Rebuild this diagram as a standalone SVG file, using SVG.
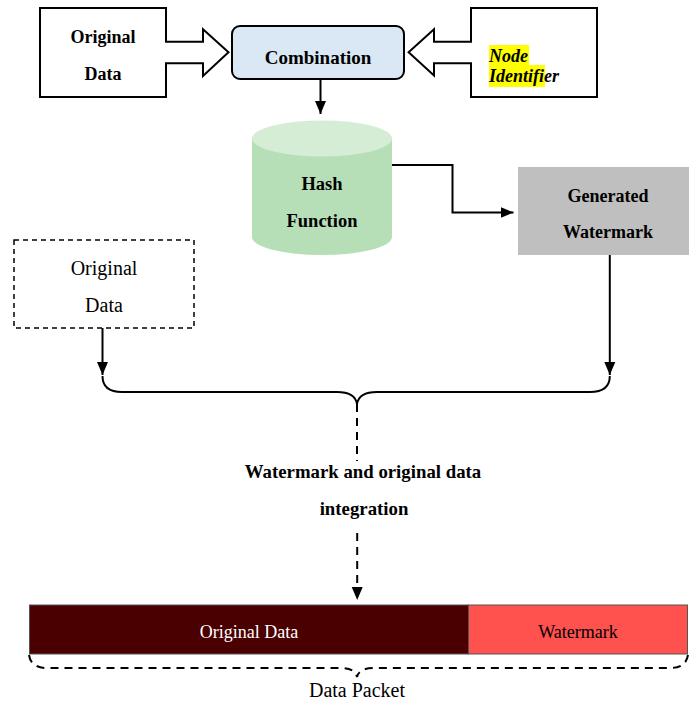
<svg xmlns="http://www.w3.org/2000/svg" width="689" height="704" viewBox="0 0 689 704">
<style>
.t{font-family:"Liberation Serif","Times New Roman",serif;fill:#000;text-anchor:middle}
.s{text-anchor:start}
.b{font-weight:bold}
.w{fill:#fff}
.box{fill:#fff;stroke:#000;stroke-width:2}
.ln{fill:none;stroke:#000;stroke-width:2}
.dash{fill:none;stroke:#000;stroke-width:2;stroke-dasharray:8 6}
</style>
<defs>
<marker id="ah" markerUnits="userSpaceOnUse" markerWidth="14" markerHeight="14" viewBox="0 0 14 14" refX="13" refY="7" orient="auto">
<path d="M0,1.5 L13,7 L0,12.5 Z" fill="#000"/>
</marker>
</defs>
<rect width="689" height="704" fill="#fff"/>

<g id="original-data-top">
<rect class="box" x="40" y="8" width="126" height="89"/>
<text class="t b" x="103" y="43" font-size="18">Original</text>
<text class="t b" x="103" y="80" font-size="18">Data</text>
</g>

<g id="node-identifier">
<rect class="box" x="471" y="8" width="126" height="89"/>
<rect x="489" y="45" width="40" height="20" fill="#ffff00"/>
<rect x="489" y="65" width="56" height="22" fill="#ffff00"/>
<text class="t b s" x="489" y="62" font-size="18" font-style="italic">Node</text>
<text class="t b s" x="489" y="82" font-size="18" font-style="italic">Identifier</text>
</g>

<g id="combination">
<rect x="232" y="26" width="172" height="53" rx="8" fill="#dae7f5" stroke="#000" stroke-width="2"/>
<text class="t b" x="318" y="64" font-size="19">Combination</text>
</g>

<g id="hash-function">
<path d="M252,138.5 L252,237 A70,18 0 0 0 392,237 L392,138.5 Z" fill="#b7dfb7"/>
<ellipse cx="322" cy="138.5" rx="70" ry="18" fill="#d5edd4"/>
<text class="t b" x="322" y="190" font-size="18.5">Hash</text>
<text class="t b" x="322" y="227" font-size="18.5">Function</text>
</g>

<g id="generated-watermark">
<rect x="518" y="167" width="171" height="88" fill="#bfbfbf"/>
<text class="t b" x="608" y="202" font-size="18">Generated</text>
<text class="t b" x="608" y="238" font-size="18">Watermark</text>
</g>

<g id="original-data-dashed">
<rect x="14" y="240" width="180" height="88" fill="#fff" stroke="#000" stroke-width="1.5" stroke-dasharray="5 4"/>
<text class="t" x="104" y="275" font-size="20">Original</text>
<text class="t" x="104" y="312" font-size="20">Data</text>
</g>

<g id="integration-label">
<text class="t b" x="363" y="478" font-size="18.8">Watermark and original data</text>
<text class="t b" x="364" y="515" font-size="18.8">integration</text>
</g>

<g id="data-packet">
<rect x="29.5" y="605" width="439" height="49" fill="#4a0000" stroke="#555" stroke-width="1"/>
<rect x="468.5" y="605" width="219" height="49" fill="#ff514d" stroke="#555" stroke-width="1"/>
<text class="t w" x="249" y="638" font-size="18">Original Data</text>
<text class="t" x="578" y="638" font-size="18">Watermark</text>
<text class="t" x="357" y="697" font-size="20">Data Packet</text>
</g>

<g id="connectors">
<path d="M165,41.7 L203,41.7 L203,29.3 L228.5,52.3 L203,76 L203,63.3 L165,63.3" fill="#fff" stroke="#000" stroke-width="2"/>
<path d="M472,41.7 L434,41.7 L434,29.3 L408.6,52.3 L434,75.5 L434,63.3 L472,63.3" fill="#fff" stroke="#000" stroke-width="2"/>
<line class="ln" x1="320.5" y1="79" x2="320.5" y2="114" marker-end="url(#ah)"/>
<path class="ln" d="M392,165 L452.5,165 L452.5,212.5 L513.5,212.5" marker-end="url(#ah)"/>
<line class="ln" x1="102.5" y1="328" x2="102.5" y2="375" marker-end="url(#ah)"/>
<line class="ln" x1="609.8" y1="255" x2="609.8" y2="375" marker-end="url(#ah)"/>
<path class="ln" d="M102.5,376 Q102.5,392 122,392 L337,392 Q355,392 357,404 Q359,392 377,392 L590,392 Q609.8,392 609.8,376"/>
<line class="dash" x1="357" y1="404" x2="357" y2="461"/>
<line class="dash" x1="357.2" y1="533" x2="357.2" y2="600" marker-end="url(#ah)"/>
<path class="dash" d="M29,655 Q31,668 47,668 L340,668 Q355,668 357,677 Q359,668 374,668 L670,668 Q686,668 688,655"/>
</g>
</svg>
